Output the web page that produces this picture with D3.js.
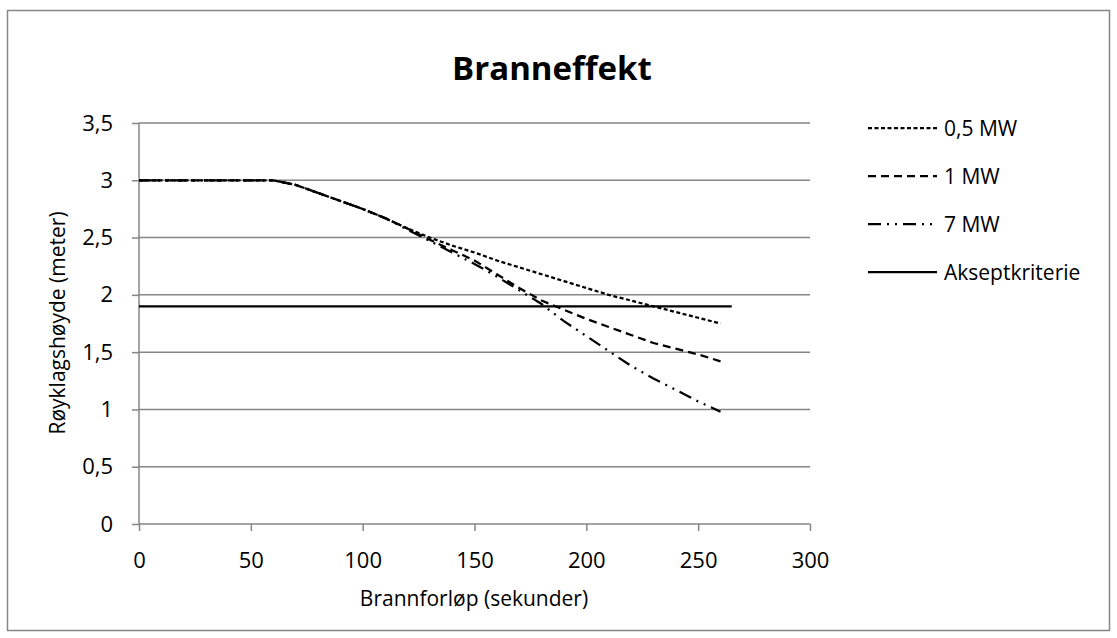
<!DOCTYPE html>
<html>
<head>
<meta charset="utf-8">
<script src="https://cdn.jsdelivr.net/npm/d3@7"></script>
<style>
  body { margin: 0; background: #fff; }
  text { font-family: "Open Sans", "Noto Sans", sans-serif; fill: #000; }
</style>
</head>
<body>
<div id="chart"></div>
<script>
// data
var times = [0, 10, 20, 30, 40, 50, 60, 70, 80, 90, 100, 110, 120, 130, 140, 150, 160, 170, 180, 190, 200, 210, 220, 230, 240, 250, 260];
var mw05 = [3, 3, 3, 3, 3, 3, 3, 2.96, 2.89, 2.82, 2.75, 2.67, 2.58, 2.5, 2.43, 2.37, 2.3, 2.24, 2.18, 2.12, 2.06, 2.0, 1.95, 1.9, 1.85, 1.8, 1.75];
var mw1 = [3, 3, 3, 3, 3, 3, 3, 2.96, 2.89, 2.82, 2.75, 2.67, 2.58, 2.48, 2.39, 2.3, 2.18, 2.06, 1.95, 1.87, 1.79, 1.72, 1.65, 1.58, 1.53, 1.48, 1.42];
var mw7 = [3, 3, 3, 3, 3, 3, 3, 2.96, 2.89, 2.82, 2.75, 2.67, 2.57, 2.47, 2.37, 2.27, 2.16, 2.04, 1.92, 1.77, 1.64, 1.51, 1.38, 1.27, 1.17, 1.07, 0.98];
var kritTimes = [0, 265];
var kritValues = [1.9, 1.9];
var seriesNames = ["0,5 MW", "1 MW", "7 MW", "Akseptkriterie"];
var xTicks = [0, 50, 100, 150, 200, 250, 300];
var yTicks = [0, 0.5, 1, 1.5, 2, 2.5, 3, 3.5];

var svgWidth = 1117, svgHeight = 638;
var margin = { top: 123, left: 139, right: 307, bottom: 114 };
var width = svgWidth - margin.left - margin.right;
var height = svgHeight - margin.top - margin.bottom;

var svg = d3.select("#chart").append("svg")
  .attr("width", svgWidth)
  .attr("height", svgHeight);

// outer frame
svg.append("rect")
  .attr("x", 7.5).attr("y", 10.5)
  .attr("width", 1102).attr("height", 620)
  .attr("fill", "#fff")
  .attr("stroke", "#868686")
  .attr("stroke-width", 1.5);

var g = svg.append("g").attr("transform", `translate(${margin.left}, ${margin.top})`);

var x = d3.scaleLinear().domain([0, 300]).range([0, width]);
var y = d3.scaleLinear().domain([0, 3.5]).range([height, 0]);

var fmt = d => String(d).replace(".", ",");

// gridlines
g.append("g").selectAll("line").data(yTicks.filter(d => d > 0)).enter()
  .append("line")
  .attr("x1", 0).attr("x2", width)
  .attr("y1", d => y(d)).attr("y2", d => y(d))
  .attr("stroke", "#868686").attr("stroke-width", 1.5);

var xAxis = g.append("g")
  .attr("transform", `translate(0, ${height})`)
  .call(d3.axisBottom(x).tickValues(xTicks).tickFormat(fmt).tickSize(7).tickPadding(21));
var yAxis = g.append("g")
  .call(d3.axisLeft(y).tickValues(yTicks).tickFormat(fmt).tickSize(7).tickPadding(19));

[xAxis, yAxis].forEach(function(a) {
  a.selectAll("path, line").attr("stroke", "#868686").attr("stroke-width", 1.5);
  a.selectAll("text").attr("font-size", 22).attr("fill", "#000");
});
yAxis.select(".domain").attr("d", `M0,${height}V0`);
xAxis.select(".domain").attr("d", `M0,0H${width}`);

var styles = ["4,2.5", "8,5", "13,6,2,6,2,6", null];
var allSeries = [
  times.map((t, i) => [t, mw05[i]]),
  times.map((t, i) => [t, mw1[i]]),
  times.map((t, i) => [t, mw7[i]]),
  kritTimes.map((t, i) => [t, kritValues[i]])
];

var line = d3.line().x(d => x(d[0])).y(d => y(d[1]));

allSeries.forEach(function(s, i) {
  g.append("path")
    .datum(s)
    .attr("d", line)
    .attr("fill", "none")
    .attr("stroke", "#000")
    .attr("stroke-width", 2.25)
    .attr("stroke-dasharray", styles[i]);
});

// title
svg.append("text")
  .attr("x", 552).attr("y", 80)
  .attr("text-anchor", "middle")
  .attr("font-size", 33)
  .attr("font-weight", "bold")
  .text("Branneffekt");

// axis titles
svg.append("text")
  .attr("x", 474).attr("y", 606)
  .attr("text-anchor", "middle")
  .attr("font-size", 21)
  .text("Brannforløp (sekunder)");

svg.append("text")
  .attr("transform", "translate(65, 323) rotate(-90)")
  .attr("text-anchor", "middle")
  .attr("font-size", 21)
  .text("Røyklagshøyde (meter)");

// legend
var legend = svg.append("g").selectAll("g").data(seriesNames).enter()
  .append("g")
  .attr("transform", (d, i) => `translate(868, ${128 + i * 48})`);

legend.append("line")
  .attr("x1", 0).attr("x2", 69)
  .attr("y1", 0).attr("y2", 0)
  .attr("stroke", "#000")
  .attr("stroke-width", 2.25)
  .attr("stroke-dasharray", (d, i) => styles[i]);

legend.append("text")
  .attr("x", 76).attr("y", 8)
  .attr("font-size", 21)
  .text(d => d);
</script>
</body>
</html>
